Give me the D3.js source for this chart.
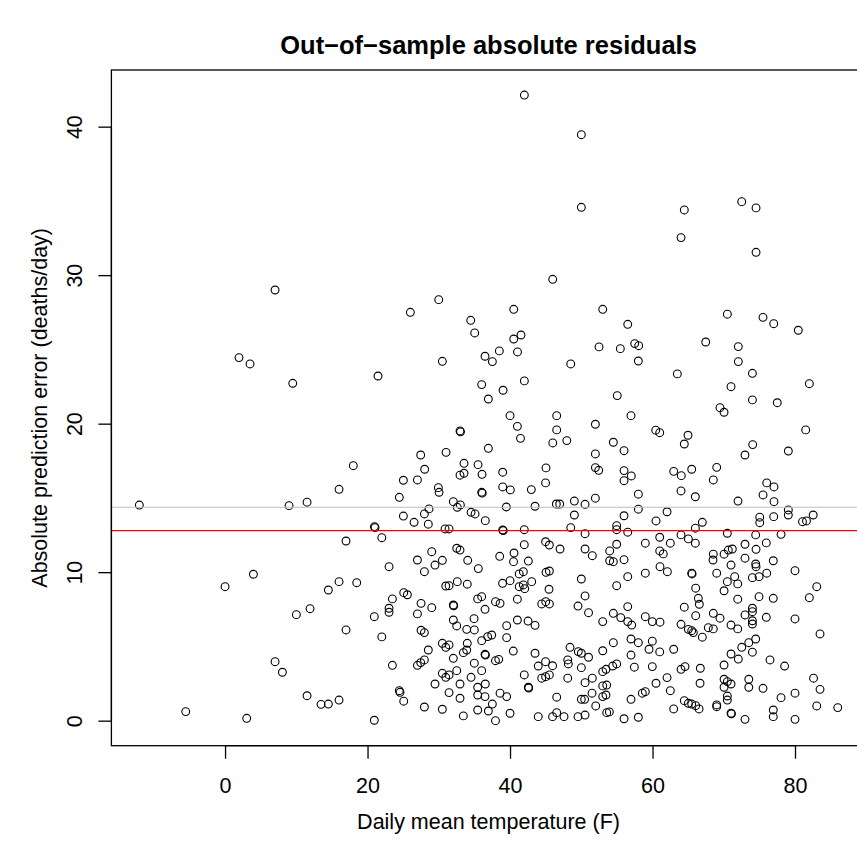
<!DOCTYPE html>
<html><head><meta charset="utf-8">
<script src="https://cdn.jsdelivr.net/npm/d3@7/dist/d3.min.js"></script>
<style>body{margin:0;background:#fff}svg{display:block}</style>
</head><body>
<svg id="chart" width="857" height="853"></svg>
<script>
// Daily mean temperature (F)
const temperature = [
 7.02, 1.96, 3.51,
 -12.03, 0.00, 3.98, 7.02, 8.05, -5.52, 3.04,
 42.01, 45.99, 29.99, 26.01, 40.52, 34.48, 35.04, 41.54, 40.52, 38.50, 41.05, 36.49, 37.52, 30.50, 48.52, 21.47, 9.50, 36.02, 39.02, 42.01,
 50.01, 50.01, 64.46, 72.52, 74.53, 64.00, 74.53, 53.01, 56.52, 70.50, 75.51, 77.01, 80.46, 52.49, 55.48, 57.50, 58.06, 58.01, 67.47, 72.04, 72.04, 74.02, 63.48, 71.02, 82.01, 55.05,
 27.46, 28.02, 18.00, 25.03, 27.00, 16.00, 24.46, 11.51, 8.98, 27.98, 25.03, 26.53, 20.97, 21.05, 22.00, 16.98, 27.00,
 36.96, 40.00, 46.55, 32.98, 41.03, 46.55, 41.47, 46.00, 47.97, 36.96, 31.02, 33.54, 35.51, 36.07, 32.98, 33.54, 38.97, 45.05, 44.99, 29.94, 30.04, 36.02, 38.97, 40.04, 42.99, 32.04, 32.60, 33.03, 39.48, 43.51, 46.50, 46.97, 28.63, 34.53, 35.09, 36.53, 28.53, 30.88, 31.44, 38.97, 42.00, 29.01, 32.52, 32.98, 42.00, 44.99, 45.52, 47.02, 38.55, 40.56, 30.50, 34.06, 42.57, 40.49,
 56.98, 51.98, 60.45, 61.01, 64.98, 64.46, 54.50, 56.00, 51.98, 51.98, 52.45, 56.00, 57.02, 56.00, 62.97, 64.04, 65.50, 64.00, 66.01, 58.01, 51.98, 49.03, 50.53, 58.01, 62.04, 49.03, 56.00, 60.49, 66.99, 48.52, 54.97, 54.97, 56.52, 50.53, 66.01, 64.00, 61.01, 65.03, 66.01, 62.50, 58.99, 54.97, 50.53, 53.99, 51.55, 61.01, 61.51, 56.00, 53.99, 54.50,
 74.02, 77.51, 69.47, 70.04, 81.50, 74.06, 72.98, 79.06, 69.01, 68.53, 76.03, 77.05, 75.51, 77.05, 72.00, 79.06, 79.06, 77.01, 75.05, 75.05, 81.05, 81.61, 82.55, 70.50, 74.48, 78.04, 75.97, 72.98, 74.53, 70.64, 71.20, 70.04, 68.53, 68.49, 72.98, 76.95,
 23.02, 27.98, 16.00, 14.50, 18.48, 11.93, 10.01, 16.98, 20.95, 23.49, 23.02, 23.02, 25.08, 25.59, 27.51, 27.00, 22.00, 27.51, 27.98, 23.49, 27.00, 27.46, 27.98, 11.51, 13.47, 14.50, 16.00, 24.46, 24.56, 25.08, 27.98, 20.95,
 29.47, 35.55, 41.29, 41.87, 45.05, 45.52, 30.98, 31.44, 32.60, 34.00,
 38.95, 40.00, 41.29, 41.87, 42.06, 43.04, 45.47, 29.01, 32.04, 35.46,
 36.02, 36.49, 37.96, 38.60, 41.03, 44.45, 45.01, 45.52, 32.04, 32.52,
 33.92, 34.95, 34.99, 36.02, 36.86, 37.43, 39.53, 39.53, 41.03, 42.53,
 43.51, 28.53, 30.50, 30.98, 31.44, 32.04, 33.45, 33.92, 34.00, 36.49,
 37.96, 38.42, 40.46, 43.51, 34.99, 36.02, 32.52, 30.50, 30.98, 31.44,
 29.47, 32.98, 34.53, 35.46, 36.53, 31.44, 32.98, 35.46, 36.49, 37.52,
 38.60, 39.53, 42.00, 42.57, 43.96, 44.99, 45.97, 44.45, 44.99, 45.52,
 46.55, 30.50, 33.45, 35.46, 36.96, 37.96, 40.00, 43.96, 45.97, 46.55, 47.58,
 61.05, 62.08, 58.99, 56.52, 54.97, 50.01, 65.50, 66.06, 66.43, 66.57,
 50.53, 49.54, 51.02, 56.52, 54.50, 55.54, 53.01, 56.52, 57.08, 58.99,
 59.97, 61.05, 64.46, 66.06, 64.00, 65.03, 65.50, 65.73, 66.99, 48.42,
 49.58, 50.01, 51.02, 48.10, 48.18, 48.10, 53.01, 54.50, 56.98, 58.01,
 59.51, 59.97, 61.01, 56.98, 62.97, 50.01, 53.01, 53.47, 54.41, 54.97,
 57.45, 59.97, 64.00, 64.56, 51.55, 50.53, 53.01, 53.57, 51.51, 53.01,
 53.47, 60.49, 62.04, 62.50, 58.57, 58.99, 56.98, 50.01, 50.47, 52.03,
 53.57, 53.94, 50.53, 49.54, 56.00, 58.01, 62.97, 64.46, 65.03, 65.50,
 66.06, 66.53, 66.71, 66.67,
 74.48, 71.02, 74.53, 80.00, 69.01, 71.53, 70.50, 71.96, 70.04, 74.02,
 74.95, 76.03, 83.05, 82.01, 71.96, 74.95, 76.95, 74.02, 74.02, 68.53,
 69.47, 72.98, 75.97, 80.00, 67.83, 68.53, 71.02, 71.96, 74.02, 74.02,
 83.51, 74.48, 73.51, 72.52, 74.02, 71.02, 72.04, 76.49, 78.54, 70.04,
 70.04, 70.50, 71.02, 70.04, 73.51, 73.51, 75.51, 82.60, 83.51, 78.04,
 80.00, 70.50, 70.50, 69.01, 69.01, 71.02, 72.98, 76.95, 76.95, 80.00,
 83.05, 86.00,
 33.05, 36.10, 39.05, 32.10, 36.55, 42.62, 65.55, 71.08
];
// Absolute prediction error (deaths/day), same order
const absError = [
 29.00, 24.45, 24.02,
 14.52, 9.02, 9.86, 3.97, 3.26, 0.61, 0.16,
 42.13, 29.72, 28.35, 27.50, 27.70, 26.96, 26.11, 25.97, 25.70, 24.90, 24.83, 24.54, 24.18, 24.20, 24.02, 23.21, 22.72, 22.63, 22.25, 22.88,
 39.46, 34.57, 34.39, 34.95, 34.53, 32.53, 31.54, 27.70, 26.69, 27.37, 27.16, 26.73, 26.29, 25.17, 25.05, 25.39, 25.25, 24.22, 25.50, 25.19, 24.18, 23.39, 23.35, 22.49, 22.69, 21.89,
 17.89, 16.93, 17.17, 16.19, 16.21, 15.58, 15.04, 14.71, 14.48, 13.92, 13.78, 13.36, 13.07, 13.00, 12.32, 12.10, 10.82,
 21.66, 20.54, 20.54, 19.51, 19.82, 19.58, 19.01, 18.70, 18.86, 18.34, 18.07, 17.33, 17.24, 16.59, 16.53, 16.66, 16.73, 17.02, 16.01, 15.69, 15.38, 15.38, 15.74, 15.54, 15.56, 14.75, 14.37, 14.53, 14.39, 14.44, 14.59, 14.59, 14.26, 14.03, 13.92, 13.47, 13.23, 12.91, 12.91, 12.84, 12.86, 11.38, 11.61, 11.49, 11.85, 12.05, 11.83, 11.56, 11.07, 11.29, 10.80, 10.80, 10.75, 10.71,
 20.54, 19.96, 19.56, 19.39, 19.22, 18.63, 18.75, 18.18, 17.96, 17.04, 16.86, 16.84, 16.48, 16.16, 16.79, 16.50, 16.93, 15.47, 15.08, 15.25, 14.98, 14.79, 14.57, 14.24, 14.07, 13.85, 13.80, 13.45, 13.36, 13.00, 13.13, 12.86, 12.69, 12.59, 12.96, 12.51, 12.35, 12.24, 11.95, 11.95, 11.95, 11.88, 11.56, 11.43, 11.11, 11.43, 11.23, 10.84, 10.77, 10.71,
 21.60, 21.41, 21.08, 20.77, 19.58, 18.59, 17.89, 18.16, 17.06, 16.21, 16.01, 15.74, 15.20, 14.75, 14.79, 14.19, 13.85, 13.74, 13.70, 13.33, 13.40, 13.45, 13.85, 12.62, 12.51, 12.55, 11.97, 11.88, 11.54, 11.49, 11.56, 11.21, 11.21, 10.82, 10.94, 10.77,
 10.37, 10.03, 9.36, 8.80, 9.29, 7.54, 7.14, 6.11, 7.00, 8.20, 7.57, 7.30, 8.62, 8.48, 7.90, 7.19, 5.64, 6.09, 5.93, 3.73, 3.73, 3.91, 4.09, 1.68, 1.10, 1.12, 1.39, 2.02, 1.91, 1.31, 0.92, 0.03,
 10.48, 10.24, 9.88, 10.03, 9.99, 10.08, 9.07, 9.09, 9.36, 9.19,
 9.25, 9.43, 9.02, 9.14, 8.89, 9.36, 8.85, 7.61, 7.79, 8.20,
 8.35, 7.50, 8.01, 7.90, 8.18, 7.86, 8.01, 7.86, 6.78, 6.38,
 6.15, 6.87, 6.11, 5.39, 5.66, 5.77, 6.40, 5.59, 6.78, 6.71,
 6.42, 4.76, 5.21, 4.94, 5.10, 4.20, 4.58, 4.76, 5.21, 4.47,
 4.04, 4.13, 4.69, 4.54, 3.87, 3.37, 3.37, 3.19, 2.92, 3.08,
 2.47, 2.47, 2.92, 2.25, 2.47, 1.89, 1.51, 1.73, 1.62, 1.12,
 1.85, 1.62, 3.08, 2.25, 3.68, 3.97, 3.70, 2.86, 2.96, 3.08,
 1.58, 0.77, 0.32, 0.72, 0.65, 0.00, 0.50, 0.27, 0.27, 0.54, 0.27,
 10.37, 10.03, 9.93, 9.70, 9.09, 9.54, 9.93, 8.92, 8.24, 7.84,
 8.40, 7.72, 7.27, 7.68, 7.23, 6.94, 6.67, 6.67, 6.44, 7.00,
 6.67, 6.63, 7.64, 7.07, 6.49, 6.15, 6.06, 5.93, 5.62, 4.94,
 4.65, 4.54, 4.27, 4.09, 3.82, 2.86, 4.71, 5.25, 5.50, 5.25,
 4.81, 5.35, 4.63, 4.42, 4.81, 3.57, 3.30, 3.46, 3.68, 3.82,
 3.60, 3.64, 3.46, 3.64, 2.86, 2.56, 2.34, 2.40, 1.85, 1.62,
 1.73, 2.52, 2.90, 2.02, 1.85, 1.95, 1.44, 1.44, 1.44, 0.99,
 0.54, 0.59, 0.38, 0.27, 0.13, 0.23, 0.79, 1.35, 1.17, 1.12,
 1.01, 0.79, 3.53, 2.52,
 10.55, 10.48, 10.37, 10.10, 9.93, 9.70, 9.36, 9.21, 8.75, 9.63,
 9.70, 9.93, 9.02, 8.28, 8.18, 8.35, 8.24, 7.57, 7.34, 7.23,
 6.90, 7.12, 6.96, 6.85, 6.26, 6.18, 6.44, 6.18, 6.73, 6.51,
 5.84, 5.50, 5.25, 4.94, 4.61, 4.49, 4.15, 4.09, 3.68, 3.75,
 2.79, 2.63, 2.47, 2.25, 2.79, 2.25, 2.18, 2.86, 2.11, 1.55,
 1.85, 1.66, 1.39, 1.06, 0.94, 0.50, 0.09, 0.72, 0.27, 0.09,
 0.99, 0.88,
 19.45, 15.32, 12.80, 7.74, 4.42, 2.20, 9.88, 0.46
];
const xTicks = [0, 20, 40, 60, 80];
const yTicks = [0, 10, 20, 30, 40];
const referenceLevels = [14.37, 12.80];   // grey, red horizontal lines
const titleText = "Out\u2212of\u2212sample absolute residuals";
const xLabel = "Daily mean temperature (F)";
const yLabel = "Absolute prediction error (deaths/day)";

const svg = d3.select("#chart");
const font = "'Liberation Sans', Arial, Helvetica, sans-serif";
const plot = {left: 111.4, right: 865.7, top: 70, bottom: 745.7};
const padR = ([a, b]) => { const r = (b - a) * 0.04; return [a - r, b + r]; };

const x = d3.scaleLinear().domain(padR(d3.extent(temperature))).range([plot.left, plot.right]);
const y = d3.scaleLinear().domain(padR(d3.extent(absError))).range([plot.bottom, plot.top]);

svg.append("rect").attr("width", 857).attr("height", 853).attr("fill", "#fff");

const pts = d3.range(Math.min(temperature.length, absError.length)).map(i => ({t: temperature[i], e: absError[i]}));

svg.append("g").selectAll("circle").data(pts).join("circle")
  .attr("cx", d => x(d.t)).attr("cy", d => y(d.e)).attr("r", 3.9)
  .attr("fill", "none").attr("stroke", "#000").attr("stroke-width", 1.1);

// reference lines
svg.append("line").attr("x1", plot.left).attr("x2", plot.right)
  .attr("y1", y(referenceLevels[0])).attr("y2", y(referenceLevels[0]))
  .attr("stroke", "#bebebe").attr("stroke-width", 1.2);
svg.append("line").attr("x1", plot.left).attr("x2", plot.right)
  .attr("y1", y(referenceLevels[1])).attr("y2", y(referenceLevels[1]))
  .attr("stroke", "#ff0000").attr("stroke-width", 1.2);

// box
svg.append("rect").attr("x", plot.left).attr("y", plot.top)
  .attr("width", plot.right - plot.left).attr("height", plot.bottom - plot.top)
  .attr("fill", "none").attr("stroke", "#000").attr("stroke-width", 1.3);

// x axis
const gx = svg.append("g").attr("transform", `translate(0,${plot.bottom})`)
  .call(d3.axisBottom(x).tickValues(xTicks).tickFormat(d3.format("d")).tickSize(13).tickPadding(19).tickSizeOuter(0));
gx.select(".domain").attr("d", `M${x(xTicks[0])},0H${x(xTicks[xTicks.length-1])}`).attr("stroke-width", 1.3);
gx.selectAll(".tick line").attr("stroke-width", 1.3);
gx.selectAll("text").attr("font-family", font).attr("font-size", 21.5).attr("fill", "#000");

// y axis
const gy = svg.append("g").attr("transform", `translate(${plot.left},0)`)
  .call(d3.axisLeft(y).tickValues(yTicks).tickFormat(d3.format("d")).tickSize(13).tickSizeOuter(0));
gy.select(".domain").attr("d", `M0,${y(yTicks[0])}V${y(yTicks[yTicks.length-1])}`).attr("stroke-width", 1.3);
gy.selectAll(".tick line").attr("stroke-width", 1.3);
gy.selectAll("text").attr("font-family", font).attr("font-size", 21.5).attr("fill", "#000")
  .attr("x", null).attr("dy", null).attr("text-anchor", "middle")
  .attr("transform", "translate(-29.5,0) rotate(-90)");

svg.selectAll(".domain, .tick line").attr("stroke", "#000");

// titles
const cx = (plot.left + plot.right) / 2;
svg.append("text").attr("x", cx).attr("y", 54).attr("text-anchor", "middle")
  .attr("font-family", font).attr("font-weight", "bold").attr("font-size", 25.5).text(titleText);
svg.append("text").attr("x", cx).attr("y", 829).attr("text-anchor", "middle")
  .attr("font-family", font).attr("font-size", 21.5).text(xLabel);
svg.append("text").attr("transform", `translate(47,${(plot.top + plot.bottom) / 2}) rotate(-90)`)
  .attr("text-anchor", "middle").attr("font-family", font).attr("font-size", 21.5).text(yLabel);
</script>
</body></html>
